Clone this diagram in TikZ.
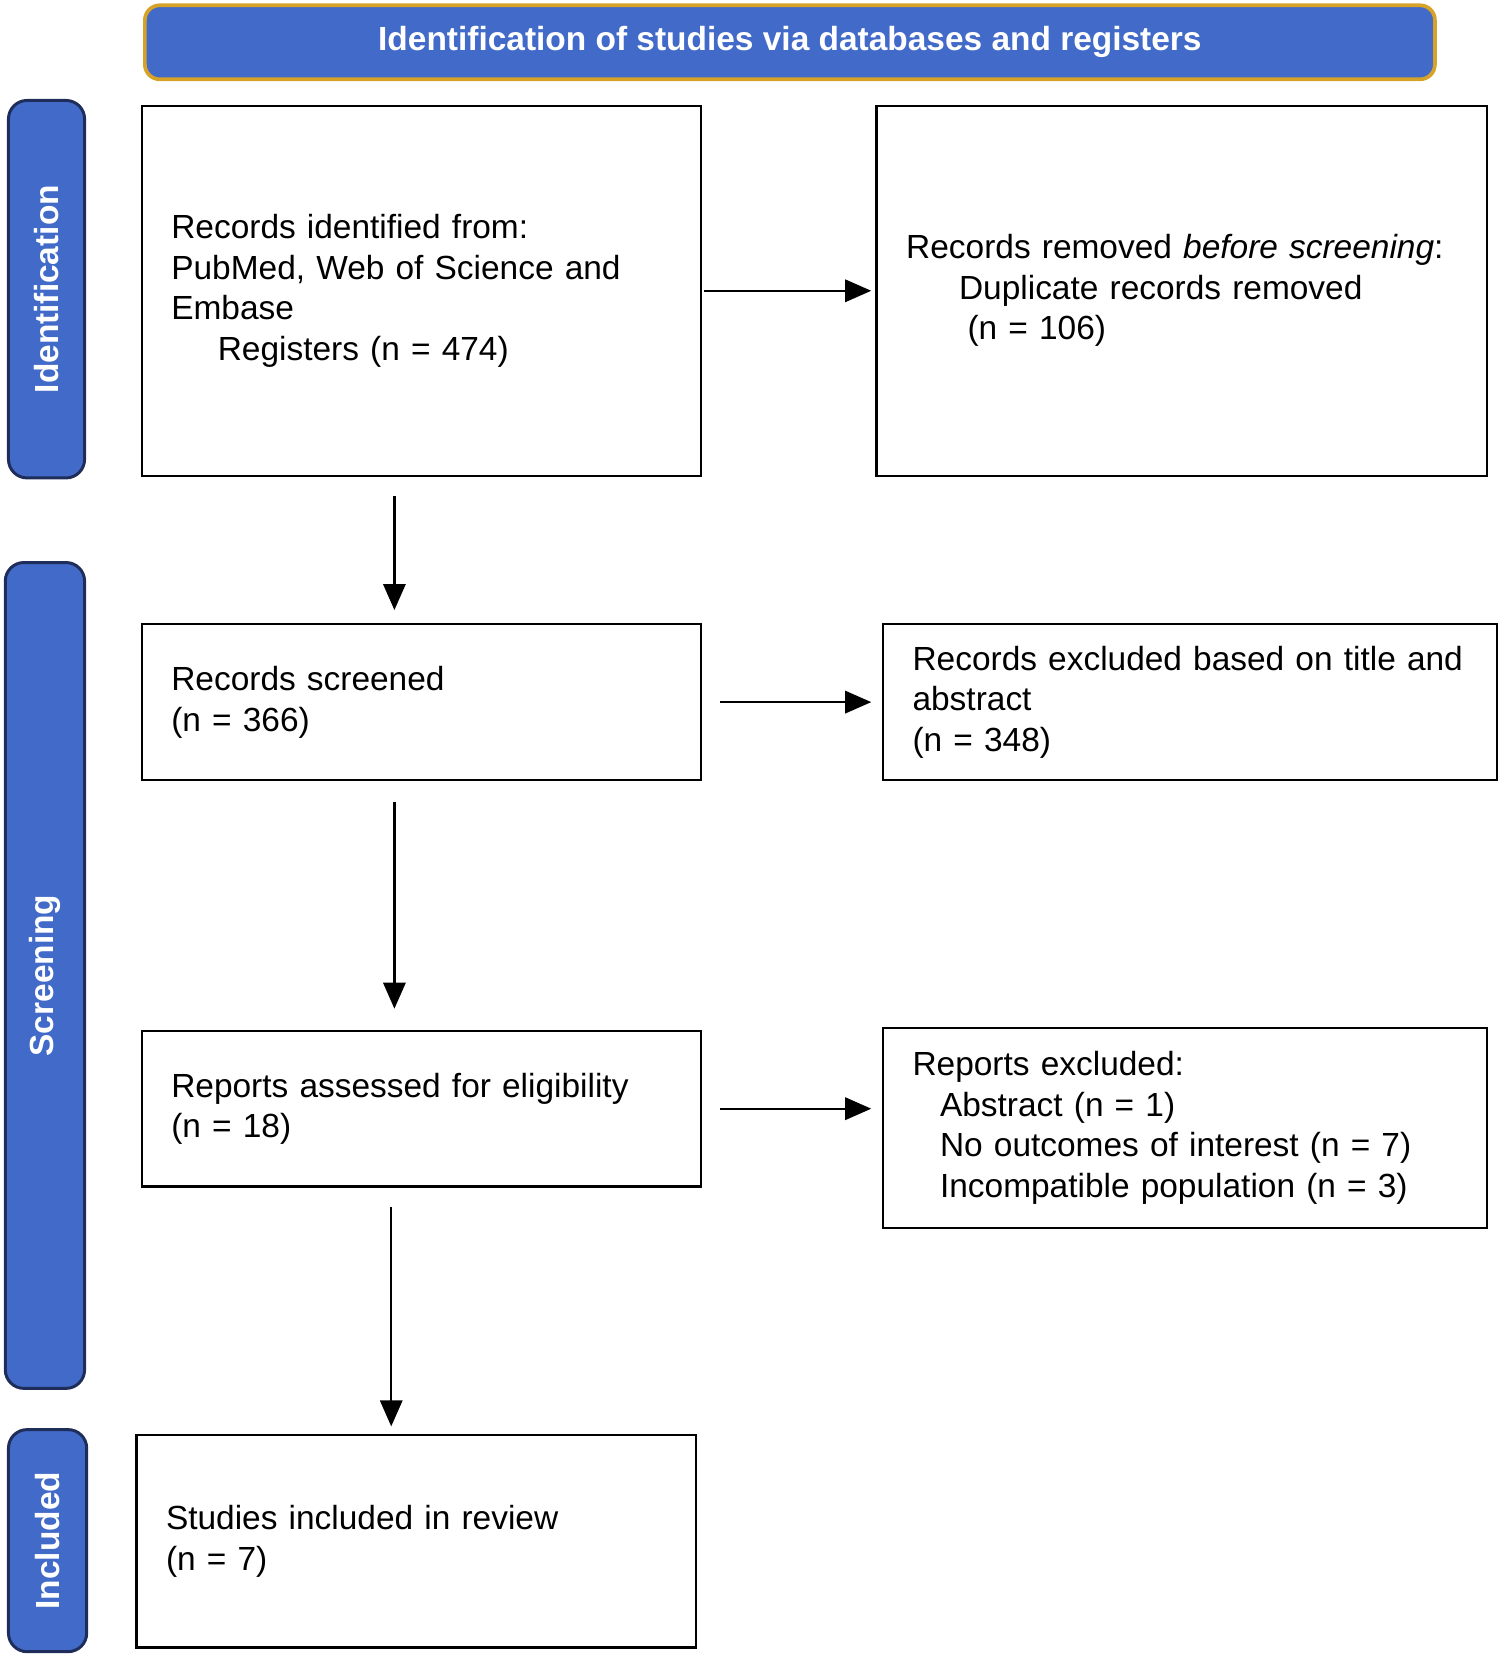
\documentclass[tikz,border=0pt]{standalone}
\usepackage{fontspec}
\setmainfont{Liberation Sans}
\usetikzlibrary{positioning,arrows.meta}
\definecolor{prismablue}{RGB}{66,106,201}
\definecolor{prismagold}{RGB}{214,163,40}
\definecolor{prismanavy}{RGB}{30,45,90}

\begin{document}
\begin{tikzpicture}[
    >={Triangle[length=7pt,width=6pt]},
    box/.style={%
      rectangle, draw=black, line width=0.6pt, fill=white,
      inner xsep=0.28cm, align=left, font=\fontsize{9}{10.9}\selectfont
    },
    head/.style={%
      rectangle, rounded corners=4pt, draw=prismagold, line width=1pt,
      fill=prismablue, text=white, font=\bfseries\fontsize{9}{11}\selectfont
    },
    side/.style={%
      rectangle, rounded corners=5pt, draw=prismanavy, line width=0.8pt,
      fill=prismablue, text=white, font=\bfseries\fontsize{9}{11}\selectfont
    },
    arr/.style={->, line width=0.6pt}
]
    \useasboundingbox (0,0) rectangle (14.2,-15.68);

    % header and phase bars
    \node[head, minimum width=12.2cm, minimum height=0.7cm] (head) at (7.47,-0.40)
      {Identification of studies via databases and registers};
    \node[side, minimum width=0.72cm, minimum height=3.57cm] (ident) at (0.44,-2.735)
      {\rotatebox{90}{Identification}};
    \node[side, minimum width=0.75cm, minimum height=7.81cm] (screen) at (0.425,-9.225)
      {\rotatebox{90}{Screening}};
    \node[side, minimum width=0.74cm, minimum height=2.10cm] (incl) at (0.45,-14.57)
      {\rotatebox{90}{Included}};

    % boxes
    \node[box, text width=4.73cm, minimum height=3.5cm] (found) at (3.985,-2.75)
      {Records identified from:\\PubMed, Web of Science and\\Embase\\\hspace*{0.44cm}Registers (n = 474)};
    \node[box, text width=5.21cm, minimum height=3.5cm] (dup) at (11.175,-2.75)
      {Records removed \emph{before screening}:\\\hspace*{0.5cm}Duplicate records removed\\\hspace*{0.58cm}(n = 106)\\[0.45cm]};
    \node[box, text width=4.73cm, minimum height=1.48cm] (screened) at (3.985,-6.64)
      {Records screened\\(n = 366)};
    \node[box, text width=5.25cm, minimum height=1.48cm] (exclA) at (11.255,-6.64)
      {Records excluded based on title and\\abstract\\(n = 348)};
    \node[box, text width=4.73cm, minimum height=1.47cm] (elig) at (3.985,-10.485)
      {Reports assessed for eligibility\\(n = 18)};
    \node[box, text width=5.15cm, minimum height=1.89cm] (exclB) at (11.205,-10.665)
      {Reports excluded:\\\hspace*{0.26cm}Abstract (n = 1)\\\hspace*{0.26cm}No outcomes of interest (n = 7)\\\hspace*{0.26cm}Incompatible population (n = 3)};
    \node[box, text width=4.73cm, minimum height=2.01cm] (incld) at (3.935,-14.575)
      {Studies included in review\\(n = 7)\\[0.4cm]};

    % connectors
    \draw[arr, shorten <=0.02cm, shorten >=0.04cm] (found) -- (dup);
    \draw[arr, shorten <=0.17cm, shorten >=0.10cm] (screened) -- (exclA);
    \draw[arr, shorten <=0.17cm, shorten >=0.10cm] (elig.east) -- (exclB.west |- elig.east);
    \draw[arr, shorten <=0.18cm, shorten >=0.12cm] (found.south -| 3.73,0) -- (screened.north -| 3.73,0);
    \draw[arr, shorten <=0.19cm, shorten >=0.20cm] (screened.south -| 3.73,0) -- (elig.north -| 3.73,0);
    \draw[arr, shorten <=0.18cm, shorten >=0.07cm] (elig.south -| 3.70,0) -- (incld.north -| 3.70,0);
\end{tikzpicture}
\end{document}
